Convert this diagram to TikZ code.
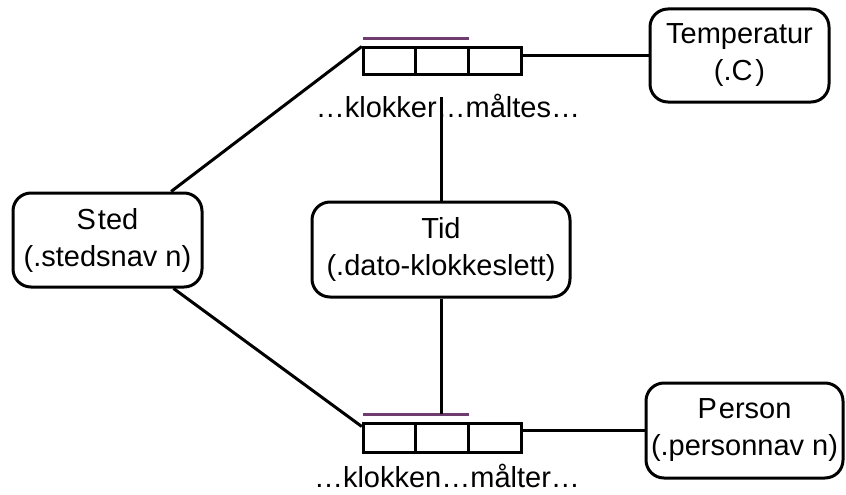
\documentclass[tikz,border=0pt]{standalone}
\usepackage{fontspec}
\setmainfont{Liberation Sans}
\usetikzlibrary{calc}
\definecolor{factline}{RGB}{110,60,110}
\begin{document}
\begin{tikzpicture}[x=1pt,y=-1pt,
  obj/.style={draw, line width=3pt, rounded corners=18pt, align=center, inner sep=0pt, font=\fontsize{29}{37}\selectfont},
  cell/.style={draw, line width=3pt, minimum width=52.7pt, inner sep=0pt},
  conn/.style={line width=3pt},
  rolebar/.style={line width=3pt, draw=factline},
  lbl/.style={font=\fontsize{29}{34}\selectfont, inner sep=0pt, anchor=base}]
\useasboundingbox (0,0) rectangle (846,495);

% object boxes
\node[obj, minimum width=189pt, minimum height=94pt] (sted) at (107.5,240) {S\kern2pt ted\\(.stedsnav n)};
\node[obj, minimum width=258pt, minimum height=95pt] (tid) at (441,249.5) {Tid\\(.dato-klokkeslett)};
\node[obj, minimum width=179pt, minimum height=93pt] (temp) at (739.5,55.5) {Temperatur\\(.C\kern3pt)};
\node[obj, minimum width=197pt, minimum height=95pt] (person) at (744.5,430.5) {P\kern2pt erson\\(.personnav n)};

% top fact type
\node[cell, minimum height=27pt] (t1) at (389.6,61.5) {};
\node[cell, minimum height=27pt] (t2) at (442.3,61.5) {};
\node[cell, minimum height=27pt] (t3) at (495,61.5) {};
% bottom fact type
\node[cell, minimum height=29pt] (b1) at (389.6,437.5) {};
\node[cell, minimum height=29pt] (b2) at (442.3,437.5) {};
\node[cell, minimum height=29pt] (b3) at (495,437.5) {};

% role bars
\coordinate (ta) at (363,39);
\coordinate (tb) at (469,39);
\coordinate (ba) at (363,414);
\coordinate (bb) at (469,414);
\draw[rolebar] (ta) -- (tb);
\draw[rolebar] (ba) -- (bb);

% labels
\node[lbl] (lt) at (448,117) {…klokker…måltes…};
\node[lbl] (lb) at (447,487) {…klokken…målter…};

% connectors
\coordinate (vt) at (441,97);
\draw[conn] (sted) -- (t1.north west);
\draw[conn] (sted) -- ([yshift=-5pt]b1.north west);
\draw[conn] (temp.west -| t3.east) -- (temp.west);
\draw[conn] (person.west -| b3.east) -- (person.west);
\draw[conn] (tid.north) -- (vt);
\draw[conn] (tid.south) -- (tid.south |- bb);
\end{tikzpicture}
\end{document}
